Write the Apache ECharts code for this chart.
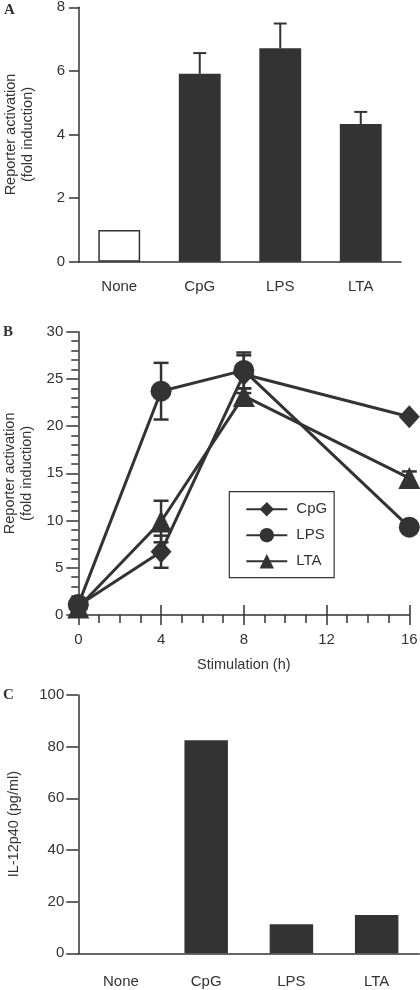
<!DOCTYPE html>
<html><head><meta charset="utf-8">
<script src="https://cdn.jsdelivr.net/npm/echarts@6/dist/echarts.min.js"></script>
<style>html,body{margin:0;padding:0;background:#fff}#c{width:420px;height:990px}</style>
</head><body><div id="c"></div>
<script>
// ---------- Panel A ----------
const catA = ['None', 'CpG', 'LPS', 'LTA'];
const valA = [1.0, 5.91, 6.71, 4.33];
const errA = [0, 0.65, 0.78, 0.38];

// ---------- Panel B ----------
const timeB = [0, 4, 8, 16];
const cpgB = [1.0, 6.7, 25.5, 21.0];
const lpsB = [1.1, 23.7, 25.9, 9.3];
const ltaB = [0.8, 9.9, 23.2, 14.5];
const cpgErrB = [0, 1.7, 2.0, 0];
const lpsErrB = [0, 3.0, 1.9, 0];
const ltaErrB = [0, 2.2, 0.8, 0.7];

// ---------- Panel C ----------
const catC = ['None', 'CpG', 'LPS', 'LTA'];
const valC = [0, 82.5, 11.2, 14.8];

const INK = '#333333';
const FONT = 'Liberation Sans';
const AXLINE = { lineStyle: { color: INK, width: 1.5 } };

function errSeries(xi, yi, data, capW, lw, bothCaps) {
  return {
    type: 'custom', xAxisIndex: xi, yAxisIndex: yi, z: 3, silent: true,
    encode: { x: 0, y: [1, 2] },
    data: data,
    renderItem: function (params, api) {
      const x = api.value(0), lo = api.value(1), hi = api.value(2);
      const a = api.coord([x, lo]), b = api.coord([x, hi]);
      const st = { stroke: INK, lineWidth: lw };
      const ch = [
        { type: 'line', shape: { x1: a[0], y1: a[1], x2: b[0], y2: b[1] }, style: st },
        { type: 'line', shape: { x1: b[0] - capW / 2, y1: b[1], x2: b[0] + capW / 2, y2: b[1] }, style: st }
      ];
      if (bothCaps) ch.push({ type: 'line', shape: { x1: a[0] - capW / 2, y1: a[1], x2: a[0] + capW / 2, y2: a[1] }, style: st });
      return { type: 'group', children: ch };
    }
  };
}

const errDataA = [];
valA.forEach((v, i) => { if (errA[i] > 0) errDataA.push([i, v, v + errA[i]]); });
function errDataB(vals, errs) {
  const out = [];
  vals.forEach((v, i) => { if (errs[i] > 0) out.push([timeB[i], v - errs[i], v + errs[i]]); });
  return out;
}

const labelStyle = { color: INK, fontFamily: FONT, fontSize: 15 };
const nameStyle = { color: INK, fontFamily: FONT, fontSize: 14.5, lineHeight: 17 };

const chart = echarts.init(document.getElementById('c'), null, { renderer: 'canvas' });
chart.setOption({
  backgroundColor: '#ffffff',
  animation: false,
  textStyle: { fontFamily: FONT },
  graphic: [
    { type: 'text', left: 4, top: 3, style: { text: 'A', font: 'bold 15px "Liberation Serif"', fill: INK } },
    { type: 'text', left: 3, top: 325, style: { text: 'B', font: 'bold 15px "Liberation Serif"', fill: INK } },
    { type: 'text', left: 3, top: 688, style: { text: 'C', font: 'bold 15px "Liberation Serif"', fill: INK } }
  ],
  grid: [
    { left: 79, top: 7.3, width: 322, height: 254.4, containLabel: false, outerBoundsMode: 'none' },
    { left: 78.3, top: 331.7, width: 331, height: 283.3, containLabel: false, outerBoundsMode: 'none' },
    { left: 78.3, top: 695, width: 341, height: 258.3, containLabel: false, outerBoundsMode: 'none' }
  ],
  legend: {
    show: true,
    data: ['CpG', 'LPS', 'LTA'],
    orient: 'vertical',
    left: 229.3, top: 491.7,
    itemWidth: 41, itemHeight: 18, itemGap: 11,
    padding: [10, 7, 9, 16],
    borderColor: INK, borderWidth: 1.2,
    selectedMode: false,
    textStyle: { color: INK, fontFamily: FONT, fontSize: 15, padding: [0, 0, 0, 4] }
  },
  xAxis: [
    { gridIndex: 0, type: 'category', data: catA,
      axisLine: AXLINE, axisTick: { length: 10, lineStyle: { color: INK, width: 1.5 } },
      axisLabel: Object.assign({ margin: 18 }, labelStyle) },
    { gridIndex: 1, type: 'value', min: 0, max: 16, interval: 4,
      name: 'Stimulation (h)', nameLocation: 'middle', nameGap: 41, nameTextStyle: nameStyle,
      axisLine: AXLINE, axisTick: { length: 10, lineStyle: { color: INK, width: 1.5 } },
      minorTick: { show: true, splitNumber: 4, length: 8, lineStyle: { color: INK, width: 1.5 } },
      splitLine: { show: false }, minorSplitLine: { show: false },
      axisLabel: Object.assign({ margin: 17 }, labelStyle) },
    { gridIndex: 1, type: 'value', min: 0, max: 16, interval: 4, position: 'bottom',
      axisLine: { show: false }, axisTick: { show: true, inside: true, length: 10, lineStyle: { color: INK, width: 1.5 } },
      axisLabel: { show: false }, splitLine: { show: false } },
    { gridIndex: 2, type: 'category', data: catC,
      axisLine: AXLINE, axisTick: { length: 12, lineStyle: { color: INK, width: 1.5 } },
      axisLabel: Object.assign({ margin: 21 }, labelStyle) }
  ],
  yAxis: [
    { gridIndex: 0, type: 'value', min: 0, max: 8, interval: 2,
      name: 'Reporter activation\n(fold induction)', nameLocation: 'middle', nameGap: 43, nameTextStyle: nameStyle,
      axisLine: { show: true, lineStyle: { color: INK, width: 1.5 } },
      axisTick: { show: true, length: 10, lineStyle: { color: INK, width: 1.5 } },
      splitLine: { show: false },
      axisLabel: Object.assign({ margin: 14 }, labelStyle) },
    { gridIndex: 1, type: 'value', min: 0, max: 30, interval: 5,
      name: 'Reporter activation\n(fold induction)', nameLocation: 'middle', nameGap: 43, nameTextStyle: nameStyle,
      axisLine: { show: true, lineStyle: { color: INK, width: 1.5 } },
      axisTick: { show: true, length: 12, lineStyle: { color: INK, width: 1.5 } },
      minorTick: { show: true, splitNumber: 5, length: 7, lineStyle: { color: INK, width: 1.5 } },
      splitLine: { show: false }, minorSplitLine: { show: false },
      axisLabel: Object.assign({ margin: 15 }, labelStyle) },
    { gridIndex: 2, type: 'value', min: 0, max: 100, interval: 20,
      name: 'IL-12p40 (pg/ml)', nameLocation: 'middle', nameGap: 56, nameTextStyle: nameStyle,
      axisLine: { show: true, lineStyle: { color: INK, width: 1.5 } },
      axisTick: { show: true, length: 12, lineStyle: { color: INK, width: 1.5 } },
      splitLine: { show: false },
      axisLabel: Object.assign({ margin: 14 }, labelStyle) }
  ],
  series: [
    { type: 'bar', xAxisIndex: 0, yAxisIndex: 0, barWidth: '52%', z: 2,
      data: valA.map((v, i) => ({ value: v, itemStyle: i === 0 ? { color: '#ffffff', borderColor: INK, borderWidth: 1.5 } : { color: INK } })) },
    errSeries(0, 0, errDataA, 13, 2, false),

    errSeries(1, 1, errDataB(cpgB, cpgErrB), 15, 2.5, true),
    errSeries(1, 1, errDataB(lpsB, lpsErrB), 15, 2.5, true),
    errSeries(1, 1, errDataB(ltaB, ltaErrB), 15, 2.5, true),
    { name: 'CpG', type: 'line', xAxisIndex: 1, yAxisIndex: 1, z: 4,
      data: timeB.map((t, i) => [t, cpgB[i]]),
      symbol: 'diamond', symbolSize: [21, 23], showAllSymbol: true,
      lineStyle: { color: INK, width: 3 }, itemStyle: { color: INK } },
    { name: 'LTA', type: 'line', xAxisIndex: 1, yAxisIndex: 1, z: 5,
      data: timeB.map((t, i) => [t, ltaB[i]]),
      symbol: 'triangle', symbolSize: 22,
      lineStyle: { color: INK, width: 3 }, itemStyle: { color: INK } },
    { name: 'LPS', type: 'line', xAxisIndex: 1, yAxisIndex: 1, z: 6,
      data: timeB.map((t, i) => [t, lpsB[i]]),
      symbol: 'circle', symbolSize: 21,
      lineStyle: { color: INK, width: 3 }, itemStyle: { color: INK } },

    { type: 'bar', xAxisIndex: 3, yAxisIndex: 2, barWidth: '51%',
      data: valC, itemStyle: { color: INK } }
  ]
});
</script></body></html>
